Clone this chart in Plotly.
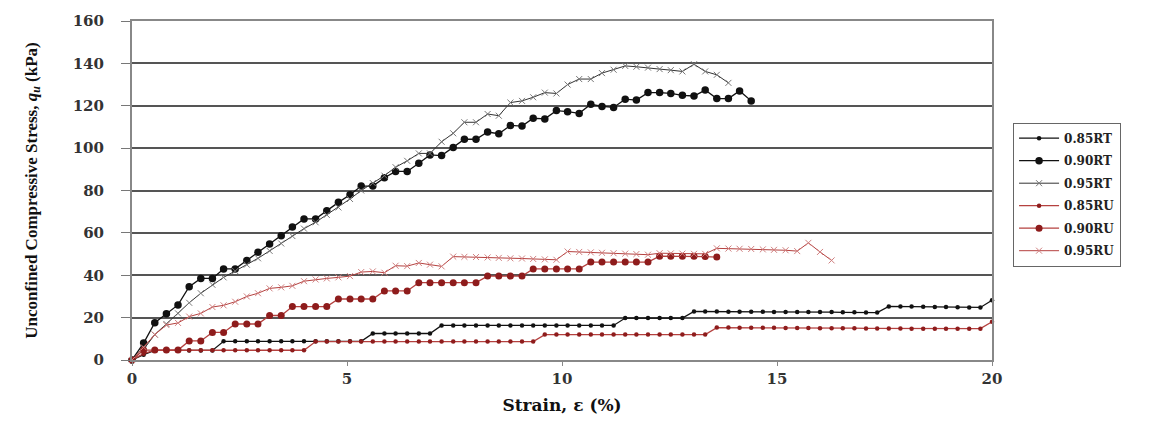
import plotly.graph_objects as go

# Axial strain readings (%), shared by every specimen
strain = [0, 0.27, 0.53, 0.8, 1.07, 1.33, 1.6, 1.87, 2.13, 2.4,
          2.67, 2.93, 3.2, 3.47, 3.73, 4.0, 4.27, 4.53, 4.8, 5.07,
          5.33, 5.6, 5.87, 6.13, 6.4, 6.67, 6.93, 7.2, 7.47, 7.73,
          8.0, 8.27, 8.53, 8.8, 9.07, 9.33, 9.6, 9.87, 10.13, 10.4,
          10.67, 10.93, 11.2, 11.47, 11.73, 12.0, 12.27, 12.53, 12.8, 13.07,
          13.33, 13.6, 13.87, 14.13, 14.4, 14.67, 14.93, 15.2, 15.47, 15.73,
          16.0, 16.27, 16.53, 16.8, 17.07, 17.33, 17.6, 17.87, 18.13, 18.4,
          18.67, 18.93, 19.2, 19.47, 19.73, 20.0]

# Unconfined compressive stress q_u (kPa)
q_085rt = [0, 2.5, 4.5, 4.5, 4.5, 4.5, 4.5, 4.5, 8.8, 8.8,
           8.8, 8.8, 8.8, 8.8, 8.8, 8.8, 8.8, 8.8, 8.8, 8.8,
           8.8, 12.5, 12.5, 12.5, 12.5, 12.5, 12.5, 16.3, 16.3, 16.3,
           16.3, 16.3, 16.3, 16.3, 16.3, 16.3, 16.3, 16.3, 16.3, 16.3,
           16.3, 16.3, 16.3, 19.8, 19.8, 19.8, 19.8, 19.8, 19.8, 22.9,
           22.9, 22.9, 22.8, 22.8, 22.8, 22.8, 22.7, 22.7, 22.7, 22.6,
           22.6, 22.6, 22.5, 22.5, 22.4, 22.4, 25.3, 25.2, 25.2, 25.1,
           25.0, 25.0, 24.9, 24.8, 24.8, 28.2]

q_090rt = [0, 8.0, 17.6, 21.8, 26.0, 34.6, 38.5, 38.5, 43.0, 43.0,
           47.0, 50.9, 54.7, 58.6, 62.8, 66.6, 66.6, 70.5, 74.4, 78.0,
           82.1, 82.1, 86.0, 89.0, 89.0, 92.9, 96.8, 96.5, 100.3, 104.2,
           104.2, 107.6, 106.8, 110.7, 110.4, 114.1, 113.8, 117.7, 117.2, 116.4,
           120.7, 119.7, 119.2, 123.1, 122.7, 126.2, 126.2, 125.8, 124.9, 124.6,
           127.4, 123.4, 123.4, 127.0, 122.3]

q_095rt = [0, 5.0, 12.0, 17.0, 22.0, 27.0, 31.5, 35.5, 39.0, 42.0,
           45.0, 48.0, 51.5, 55.0, 58.5, 62.0, 65.0, 68.5, 72.0, 76.0,
           80.0, 83.5, 87.0, 91.0, 94.0, 97.5, 97.5, 103.0, 107.0, 112.2,
           112.2, 116.1, 115.3, 121.5, 122.3, 124.0, 126.2, 125.8, 130.0, 132.6,
           132.6, 135.4, 137.0, 138.8, 138.4, 138.0, 137.3, 136.8, 136.2, 139.6,
           136.2, 134.6, 130.8]

q_085ru = [0, 3.0, 4.6, 4.6, 4.6, 4.6, 4.6, 4.6, 4.6, 4.6,
           4.6, 4.6, 4.6, 4.6, 4.6, 4.6, 8.7, 8.7, 8.7, 8.7,
           8.7, 8.7, 8.7, 8.7, 8.7, 8.7, 8.7, 8.7, 8.7, 8.7,
           8.7, 8.7, 8.7, 8.7, 8.7, 8.7, 12.0, 12.0, 12.0, 12.0,
           12.0, 12.0, 12.0, 12.0, 12.0, 12.0, 12.0, 12.0, 12.0, 12.0,
           12.0, 15.3, 15.3, 15.2, 15.2, 15.2, 15.2, 15.1, 15.1, 15.1,
           15.0, 15.0, 15.0, 15.0, 14.9, 14.9, 14.9, 14.9, 14.8, 14.8,
           14.8, 14.8, 14.8, 14.8, 14.8, 18.0]

q_090ru = [0, 4.7, 4.7, 4.7, 4.7, 9.0, 9.0, 13.0, 13.0, 17.0,
           17.0, 17.0, 21.0, 21.0, 25.2, 25.2, 25.2, 25.2, 28.8, 28.8,
           28.8, 28.8, 32.6, 32.6, 32.6, 36.5, 36.5, 36.5, 36.5, 36.5,
           36.5, 39.6, 39.6, 39.6, 39.6, 43.0, 43.0, 43.0, 43.0, 43.0,
           46.2, 46.2, 46.2, 46.2, 46.2, 46.2, 49.0, 49.0, 49.0, 49.0,
           48.8, 48.6]

q_095ru = [0, 6.0, 12.0, 16.5, 17.5, 20.5, 22.0, 25.0, 25.8, 27.5,
           30.0, 31.5, 33.8, 34.3, 35.0, 37.2, 38.0, 38.5, 39.0, 39.6,
           41.5, 41.8, 41.2, 44.5, 44.3, 45.8, 45.0, 44.2, 48.8, 48.7,
           48.6, 48.4, 48.2, 48.0, 47.9, 47.7, 47.5, 47.3, 51.2, 51.0,
           50.8, 50.6, 50.4, 50.2, 50.0, 49.7, 50.4, 50.3, 50.2, 50.1,
           50.1, 52.7, 52.6, 52.5, 52.4, 52.2, 52.0, 51.8, 51.4, 55.3,
           51.0, 47.0]

labels = ["0.85RT", "0.90RT", "0.95RT", "0.85RU", "0.90RU", "0.95RU"]

BLACK = "#111111"
RED_LINE = "#b5413f"
RED_DOT = "#8e1c1c"

styles = [
    (q_085rt, dict(color=BLACK, width=1.3), dict(symbol="circle", size=4.5, color=BLACK)),
    (q_090rt, dict(color=BLACK, width=1.3), dict(symbol="circle", size=7.5, color=BLACK)),
    (q_095rt, dict(color="#333333", width=1.0),
     dict(symbol="x-thin", size=6, color="#777777", line=dict(width=1, color="#777777"))),
    (q_085ru, dict(color=RED_LINE, width=1.3), dict(symbol="circle", size=4.5, color=RED_DOT)),
    (q_090ru, dict(color=RED_LINE, width=1.3), dict(symbol="circle", size=7, color=RED_DOT)),
    (q_095ru, dict(color=RED_LINE, width=1.0),
     dict(symbol="x-thin", size=6, color="#d08080", line=dict(width=1, color="#d08080"))),
]

fig = go.Figure()
for name, (q, line, marker) in zip(labels, styles):
    fig.add_trace(go.Scatter(
        x=strain[:len(q)], y=q, name=name, mode="lines+markers",
        line=line, marker=marker, cliponaxis=False, legendgroup=name,
    ))

tick_font = dict(family="DejaVu Serif", size=15, color="#333333", weight="bold")

fig.update_layout(
    width=1170, height=424,
    margin=dict(l=132, r=178, t=17, b=62),
    paper_bgcolor="white", plot_bgcolor="white",
    showlegend=True,
    legend=dict(
        x=1.0245, y=0.700, xanchor="left", yanchor="top",
        bordercolor="#666666", borderwidth=1, bgcolor="white",
        font=dict(family="DejaVu Serif", size=12, color="#222222", weight="bold"),
        tracegroupgap=3.5, itemwidth=40,
    ),
    xaxis=dict(
        range=[0, 20], tickvals=[0, 5, 10, 15, 20],
        showgrid=False, zeroline=False,
        showline=True, linecolor="#888888", linewidth=2, mirror=True,
        ticks="outside", ticklen=4, tickcolor="#888888",
        tickfont=tick_font,
        title=dict(text="Strain, ε (%)",
                   font=dict(family="DejaVu Serif", size=17, color="#111111", weight="bold"),
                   standoff=12),
    ),
    yaxis=dict(
        range=[0, 160], tickvals=[0, 20, 40, 60, 80, 100, 120, 140, 160],
        showgrid=True, gridcolor="#555555", gridwidth=1.5, zeroline=False,
        showline=True, linecolor="#888888", linewidth=2, mirror=True,
        ticks="outside", ticklen=9, tickcolor="#777777",
        tickfont=tick_font, ticklabelstandoff=14,
        title=dict(text="Unconfined Compressive Stress, <i>q<sub>u</sub></i> (kPa)",
                   font=dict(family="Liberation Serif", size=17, color="#111111",
                             weight="bold"),
                   standoff=31),
    ),
)

fig.write_html("out.html")
